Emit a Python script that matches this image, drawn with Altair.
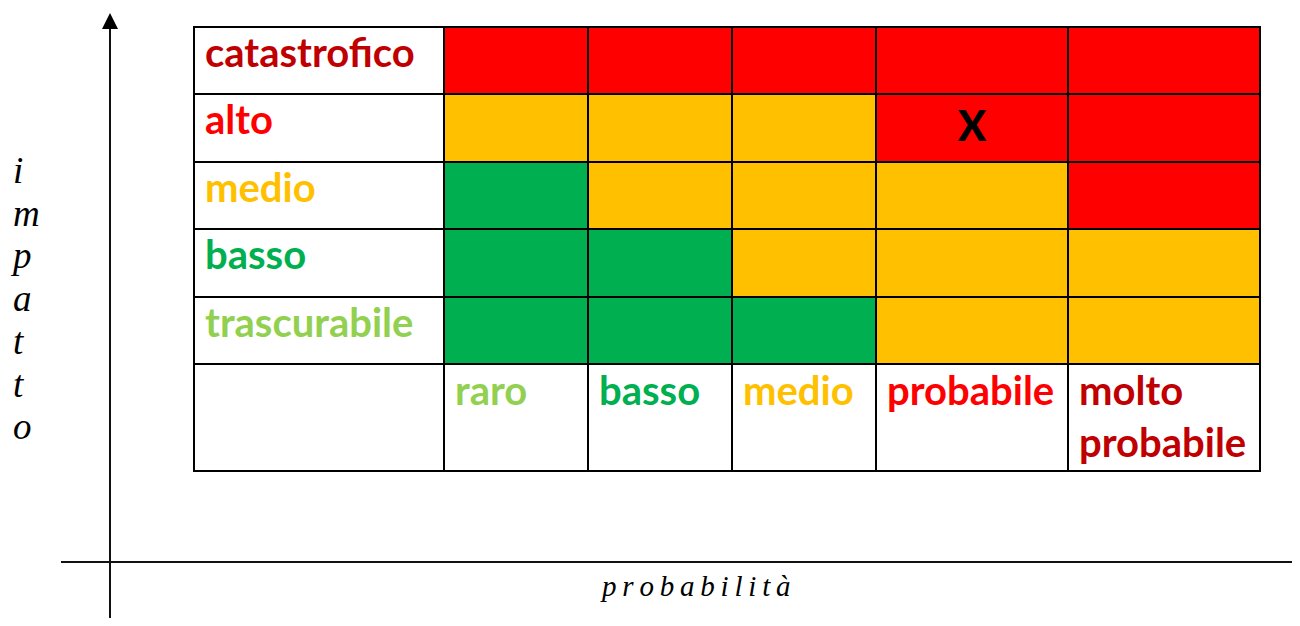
import altair as alt
import pandas as pd

# ---------------- data ----------------
impact_levels = ["catastrofico", "alto", "medio", "basso", "trascurabile"]  # top -> bottom
probability_levels = ["raro", "basso", "medio", "probabile", "molto probabile"]
risk_matrix = [
    ["alto", "alto", "alto", "alto", "alto"],
    ["medio", "medio", "medio", "alto", "alto"],
    ["basso", "medio", "medio", "medio", "alto"],
    ["basso", "basso", "medio", "medio", "medio"],
    ["basso", "basso", "basso", "medio", "medio"],
]
marker_impact = "alto"
marker_probability = "probabile"
marker_text = "X"
x_title = "probabilità"
y_title = "impatto"

# ---------------- styles ----------------
risk_fill = {"alto": "#FF0000", "medio": "#FFC000", "basso": "#00B050"}
impact_color = {"catastrofico": "#C00000", "alto": "#FF0000", "medio": "#FFC000",
                "basso": "#00B050", "trascurabile": "#92D050"}
prob_color = {"raro": "#92D050", "basso": "#00B050", "medio": "#FFC000",
              "probabile": "#FF0000", "molto probabile": "#C00000"}

# ---------------- layout (page pixel units) ----------------
COL_EDGES = [194, 444, 588, 732, 876, 1068, 1260]
ROW_EDGES = [27, 94, 162, 229, 297, 364, 471]
PAD_X = 11
BASE_Y = 40
AXIS_X = 110
AXIS_Y = 562
W, H = 1284, 610

xs = alt.Scale(domain=[8, 8 + W], nice=False, zero=False)
ys = alt.Scale(domain=[8, 8 + H], nice=False, zero=False, reverse=True)

# cells
cells = []
n_rows = len(impact_levels) + 1
n_cols = len(probability_levels) + 1
for r in range(n_rows):
    for c in range(n_cols):
        fill = "#FFFFFF"
        if r < len(impact_levels) and c > 0:
            fill = risk_fill[risk_matrix[r][c - 1]]
        cells.append(dict(x=COL_EDGES[c], x2=COL_EDGES[c + 1],
                          y=ROW_EDGES[r], y2=ROW_EDGES[r + 1], fill=fill))
cells = pd.DataFrame(cells)

labels = []
for r, lab in enumerate(impact_levels):
    labels.append(dict(x=COL_EDGES[0] + PAD_X, y=ROW_EDGES[r] + BASE_Y,
                       text=lab, color=impact_color[lab]))
for c, lab in enumerate(probability_levels):
    labels.append(dict(x=COL_EDGES[c + 1] + PAD_X, y=ROW_EDGES[-2] + BASE_Y + 1,
                       text=lab.replace(" ", "\n"), color=prob_color[lab]))
labels = pd.DataFrame(labels)

mr = impact_levels.index(marker_impact)
mc = probability_levels.index(marker_probability) + 1
marker = pd.DataFrame([dict(x=(COL_EDGES[mc] + COL_EDGES[mc + 1]) / 2,
                            y=ROW_EDGES[mr] + 47, text=marker_text)])

rect_layer = alt.Chart(cells).mark_rect(stroke="black", strokeWidth=2).encode(
    x=alt.X("x:Q", scale=xs, axis=None), x2="x2",
    y=alt.Y("y:Q", scale=ys, axis=None), y2="y2",
    color=alt.Color("fill:N", scale=None),
)

label_layer = alt.Chart(labels).mark_text(
    align="left", baseline="alphabetic", font="Lato", fontWeight="bold",
    fontSize=40, lineBreak="\n", lineHeight=52,
).encode(
    x=alt.X("x:Q", scale=xs, axis=None),
    y=alt.Y("y:Q", scale=ys, axis=None),
    text="text:N",
    color=alt.Color("color:N", scale=None),
)

marker_layer = alt.Chart(marker).mark_text(
    align="center", baseline="alphabetic", font="Lato", fontWeight=900,
    fontSize=42, color="black",
).encode(
    x=alt.X("x:Q", scale=xs, axis=None),
    y=alt.Y("y:Q", scale=ys, axis=None),
    text="text:N",
)

axes_lines = pd.DataFrame([
    dict(x=AXIS_X, x2=AXIS_X, y=28, y2=8 + H + 10),
    dict(x=61, x2=8 + W + 10, y=AXIS_Y, y2=AXIS_Y),
])
axis_layer = alt.Chart(axes_lines).mark_rule(color="#111111", strokeWidth=2).encode(
    x=alt.X("x:Q", scale=xs, axis=None), x2="x2",
    y=alt.Y("y:Q", scale=ys, axis=None), y2="y2",
)

arrow_up = alt.Chart(pd.DataFrame([dict(x=AXIS_X, y=21)])).mark_point(
    shape="M-1,1L1,1L0,-1Z", filled=True, size=256, color="black", opacity=1,
).encode(
    x=alt.X("x:Q", scale=xs, axis=None),
    y=alt.Y("y:Q", scale=ys, axis=None),
)
arrow_right = alt.Chart(pd.DataFrame([dict(x=1299, y=AXIS_Y)])).mark_point(
    shape="M-1,-1L1,0L-1,1Z", filled=True, size=196, color="black", opacity=1,
).encode(
    x=alt.X("x:Q", scale=xs, axis=None),
    y=alt.Y("y:Q", scale=ys, axis=None),
)

ytitle_layer = alt.Chart(pd.DataFrame([dict(x=13, y=183, text="\n".join(y_title))])).mark_text(
    align="left", baseline="alphabetic", font="Liberation Serif", fontStyle="italic",
    fontSize=37, lineBreak="\n", lineHeight=42.7, color="black",
).encode(
    x=alt.X("x:Q", scale=xs, axis=None),
    y=alt.Y("y:Q", scale=ys, axis=None),
    text="text:N",
)
xtitle_layer = alt.Chart(pd.DataFrame([dict(x=602, y=596, text="\u2009".join(x_title))])).mark_text(
    align="left", baseline="alphabetic", font="Liberation Serif", fontStyle="italic",
    fontSize=29, color="black",
).encode(
    x=alt.X("x:Q", scale=xs, axis=None),
    y=alt.Y("y:Q", scale=ys, axis=None),
    text="text:N",
)

chart = alt.layer(
    axis_layer, arrow_up, arrow_right, rect_layer, label_layer, marker_layer,
    ytitle_layer, xtitle_layer,
).properties(
    width=W, height=H, padding=0, background="white",
    autosize=alt.AutoSizeParams(type="none"),
).configure_view(strokeWidth=0)

chart.save("out.html", embed_options={"renderer": "svg", "actions": False})
